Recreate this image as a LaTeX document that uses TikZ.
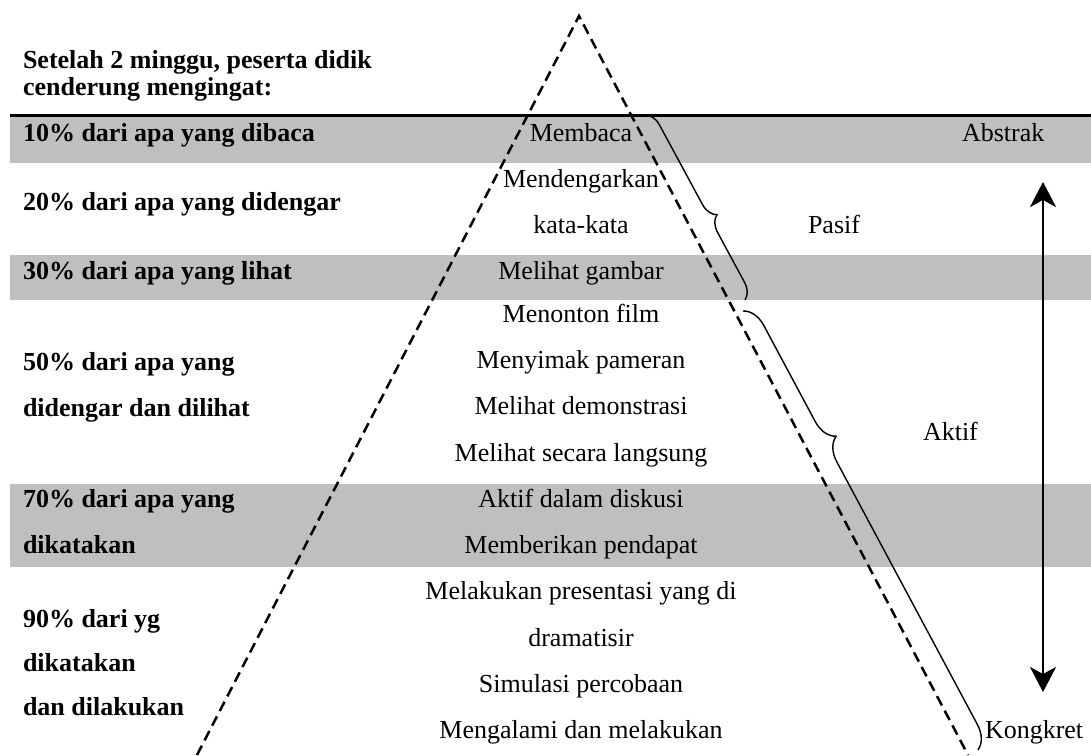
\documentclass[tikz,border=0pt]{standalone}
\usepackage{fontspec}
\setmainfont{Liberation Serif}
\usetikzlibrary{decorations.pathreplacing,arrows.meta}
\definecolor{bandgray}{RGB}{191,191,191}
\begin{document}
\begin{tikzpicture}[x=0.5pt,y=-0.5pt,
  every node/.style={inner sep=0pt, outer sep=0pt, font=\fontsize{13}{15}\selectfont},
  lefttxt/.style={anchor=base west, font=\fontsize{13}{15}\selectfont\bfseries},
  midtxt/.style={anchor=base},
  sidetxt/.style={anchor=base west},
  pyr/.style={line width=1.25pt, dash pattern=on 5.25pt off 3pt},
  bracestyle/.style={decorate, line width=0.7pt},
  dblarrow/.style={line width=1.3pt, arrows={Stealth[length=12.5pt,width=13pt,inset=3.5pt]-Stealth[length=12.5pt,width=13pt,inset=3.5pt]}}
]
\useasboundingbox (0,0) rectangle (1091,755);
% bands
\fill[bandgray] (10,115) rectangle (1091,163);
\fill[bandgray] (10,255) rectangle (1091,300);
\fill[bandgray] (10,484) rectangle (1091,567);
\coordinate (ll) at (10,115);
\coordinate (lr) at (1091,115);
\draw[line width=1.5pt] (ll) -- (lr);

% heading
\node[lefttxt] (h1) at (23,68) {Setelah 2 minggu, peserta didik};
\node[lefttxt] (h2) at (23,95) {cenderung mengingat:};

% left column
\node[lefttxt] (l1) at (23,141) {10\% dari apa yang dibaca};
\node[lefttxt] (l2) at (23,210) {20\% dari apa yang didengar};
\node[lefttxt] (l3) at (23,279) {30\% dari apa yang lihat};
\node[lefttxt] (l4a) at (23,370) {50\% dari apa yang};
\node[lefttxt] (l4b) at (23,416) {didengar dan dilihat};
\node[lefttxt] (l5a) at (23,507) {70\% dari apa yang};
\node[lefttxt] (l5b) at (23,553) {dikatakan};
\node[lefttxt] (l6a) at (23,627) {90\% dari yg};
\node[lefttxt] (l6b) at (23,671) {dikatakan};
\node[lefttxt] (l6c) at (23,715) {dan dilakukan};

% middle column
\node[midtxt] (m1) at (581,141) {Membaca};
\node[midtxt] (m2) at (581,187) {Mendengarkan};
\node[midtxt] (m3) at (581,233) {kata-kata};
\node[midtxt] (m4) at (581,279) {Melihat gambar};
\node[midtxt] (m5) at (581,322) {Menonton film};
\node[midtxt] (m6) at (581,368) {Menyimak pameran};
\node[midtxt] (m7) at (581,414) {Melihat demonstrasi};
\node[midtxt] (m8) at (581,461) {Melihat secara langsung};
\node[midtxt] (m9) at (581,507) {Aktif dalam diskusi};
\node[midtxt] (m10) at (581,553) {Memberikan pendapat};
\node[midtxt] (m11) at (581,599) {Melakukan presentasi yang di};
\node[midtxt] (m12) at (581,646) {dramatisir};
\node[midtxt] (m13) at (581,692) {Simulasi percobaan};
\node[midtxt] (m14) at (581,738) {Mengalami dan melakukan};

% right labels
\node[sidetxt] (abs) at (962,141) {Abstrak};
\node[sidetxt] (pas) at (808,233) {Pasif};
\node[sidetxt] (akt) at (923,440) {Aktif};
\node[sidetxt] (kon) at (985,738) {Kongkret};

% pyramid
\coordinate (tl) at (197,755);
\coordinate (ta) at (579,16);
\coordinate (tr) at (968,755);
\draw[pyr] (tl) -- (ta) -- (tr);

% braces
\coordinate (b1s) at (645,115);
\coordinate (b1e) at (745,300);
\draw[bracestyle, decoration={brace, amplitude=8pt, aspect=0.58}] (b1s) -- (b1e);
\coordinate (b2s) at (743,311);
\coordinate (b2e) at (978,750);
\draw[bracestyle, decoration={brace, amplitude=11.5pt, aspect=0.31}] (b2s) -- (b2e);

% arrow
\coordinate (atop) at (1043,182);
\coordinate (abot) at (1043,692);
\draw[dblarrow] (atop) -- (abot);
\end{tikzpicture}
\end{document}
